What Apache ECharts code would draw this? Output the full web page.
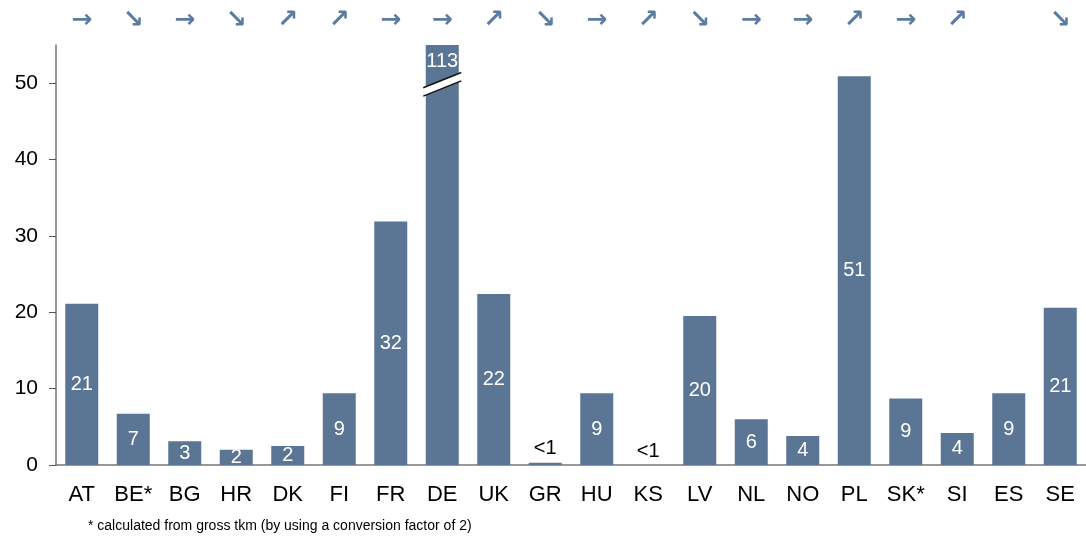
<!DOCTYPE html>
<html>
<head>
<meta charset="utf-8">
<script src="https://cdn.jsdelivr.net/npm/echarts@6/dist/echarts.min.js"></script>
<style>
  html, body { margin: 0; padding: 0; background: #fff; }
  #main { width: 1086px; height: 540px; }
</style>
</head>
<body>
<div id="main"></div>
<script>
var countries = ['AT', 'BE*', 'BG', 'HR', 'DK', 'FI', 'FR', 'DE', 'UK', 'GR', 'HU', 'KS', 'LV', 'NL', 'NO', 'PL', 'SK*', 'SI', 'ES', 'SE']
var values = [21.1, 6.7, 3.1, 2.0, 2.5, 9.4, 31.9, 113, 22.4, 0.3, 9.4, 0, 19.5, 6.0, 3.8, 50.9, 8.7, 4.2, 9.4, 20.6]
var labels = ['21', '7', '3', '2', '2', '9', '32', '113', '22', '<1', '9', '<1', '20', '6', '4', '51', '9', '4', '9', '21']
var trends = ['→', '↘', '→', '↘', '↗', '↗', '→', '→', '↗', '↘', '→', '↗', '↘', '→', '→', '↗', '→', '↗', '', '↘']
var yTicks = [0, 10, 20, 30, 40, 50]
var yMax = 55

var barColor = '#5b7594'
var font = '"Liberation Sans", Arial, sans-serif'
var footnote = '* calculated from gross tkm (by using a conversion factor of 2)'
var chart = echarts.init(document.getElementById('main'))

var barData = values.map(function (v, i) {
  var item = { value: v }
  if (labels[i] === '<1') {
    item.label = { position: 'top', color: '#000', distance: 4 }
  } else if (v > yMax) {
    item.label = { position: 'insideTop', distance: 6 }
  }
  return item
})

var option = {
  animation: false,
  textStyle: { fontFamily: font },
  grid: { left: 56, top: 45, width: 1036, height: 420 },
  xAxis: [{
    type: 'category',
    data: countries,
    axisLine: { lineStyle: { color: '#777', width: 1.5 } },
    axisTick: { length: 7, lineStyle: { color: '#555' } },
    axisLabel: { color: '#000', fontSize: 22, margin: 19, interval: 0 }
  }, {
    type: 'category',
    position: 'top',
    data: trends,
    axisLine: { show: false },
    axisTick: { show: false },
    axisLabel: { color: '#5b7ba0', fontSize: 25, fontWeight: 'bold', margin: 12, interval: 0, fontFamily: 'DejaVu Sans' }
  }],
  yAxis: {
    type: 'value',
    min: 0,
    max: yMax,
    interval: 10,
    splitLine: { show: false },
    axisLine: { show: true, lineStyle: { color: '#777', width: 1.5 } },
    axisTick: { show: true, length: 7, lineStyle: { color: '#555' } },
    axisLabel: { color: '#000', fontSize: 21, margin: 18, showMaxLabel: false,
      formatter: function (v) { return yTicks.indexOf(v) >= 0 ? v : '' } }
  },
  series: [{
    type: 'bar',
    data: barData,
    barWidth: 33,
    clip: true,
    itemStyle: { color: barColor },
    label: {
      show: true,
      position: 'inside',
      color: '#fff',
      fontSize: 20,
      formatter: function (p) { return labels[p.dataIndex] }
    }
  }]
}

chart.setOption(option)

// axis break mark on the DE bar
var di = countries.indexOf('DE')
var c = chart.convertToPixel({ xAxisIndex: 0, yAxisIndex: 0 }, [di, 0])
var x0 = c[0] - 19, x1 = c[0] + 19
function py (v) { return chart.convertToPixel({ yAxisIndex: 0 }, v) }
var a0 = py(48.3), a1 = py(50.3), b0 = py(49.4), b1 = py(51.4)
chart.setOption({
  graphic: [{
    type: 'text',
    left: 88,
    top: 519,
    style: { text: footnote, fontSize: 14, fill: '#000', fontFamily: font }
  }, {
    type: 'polygon',
    shape: { points: [[x0, a0], [x1, a1], [x1, b1], [x0, b0]] },
    style: { fill: '#fff' }, z: 100
  }, {
    type: 'line',
    shape: { x1: x0, y1: a0, x2: x1, y2: a1 },
    style: { stroke: '#111', lineWidth: 1.5 }, z: 101
  }, {
    type: 'line',
    shape: { x1: x0, y1: b0, x2: x1, y2: b1 },
    style: { stroke: '#111', lineWidth: 1.5 }, z: 101
  }]
})
</script>
</body>
</html>
